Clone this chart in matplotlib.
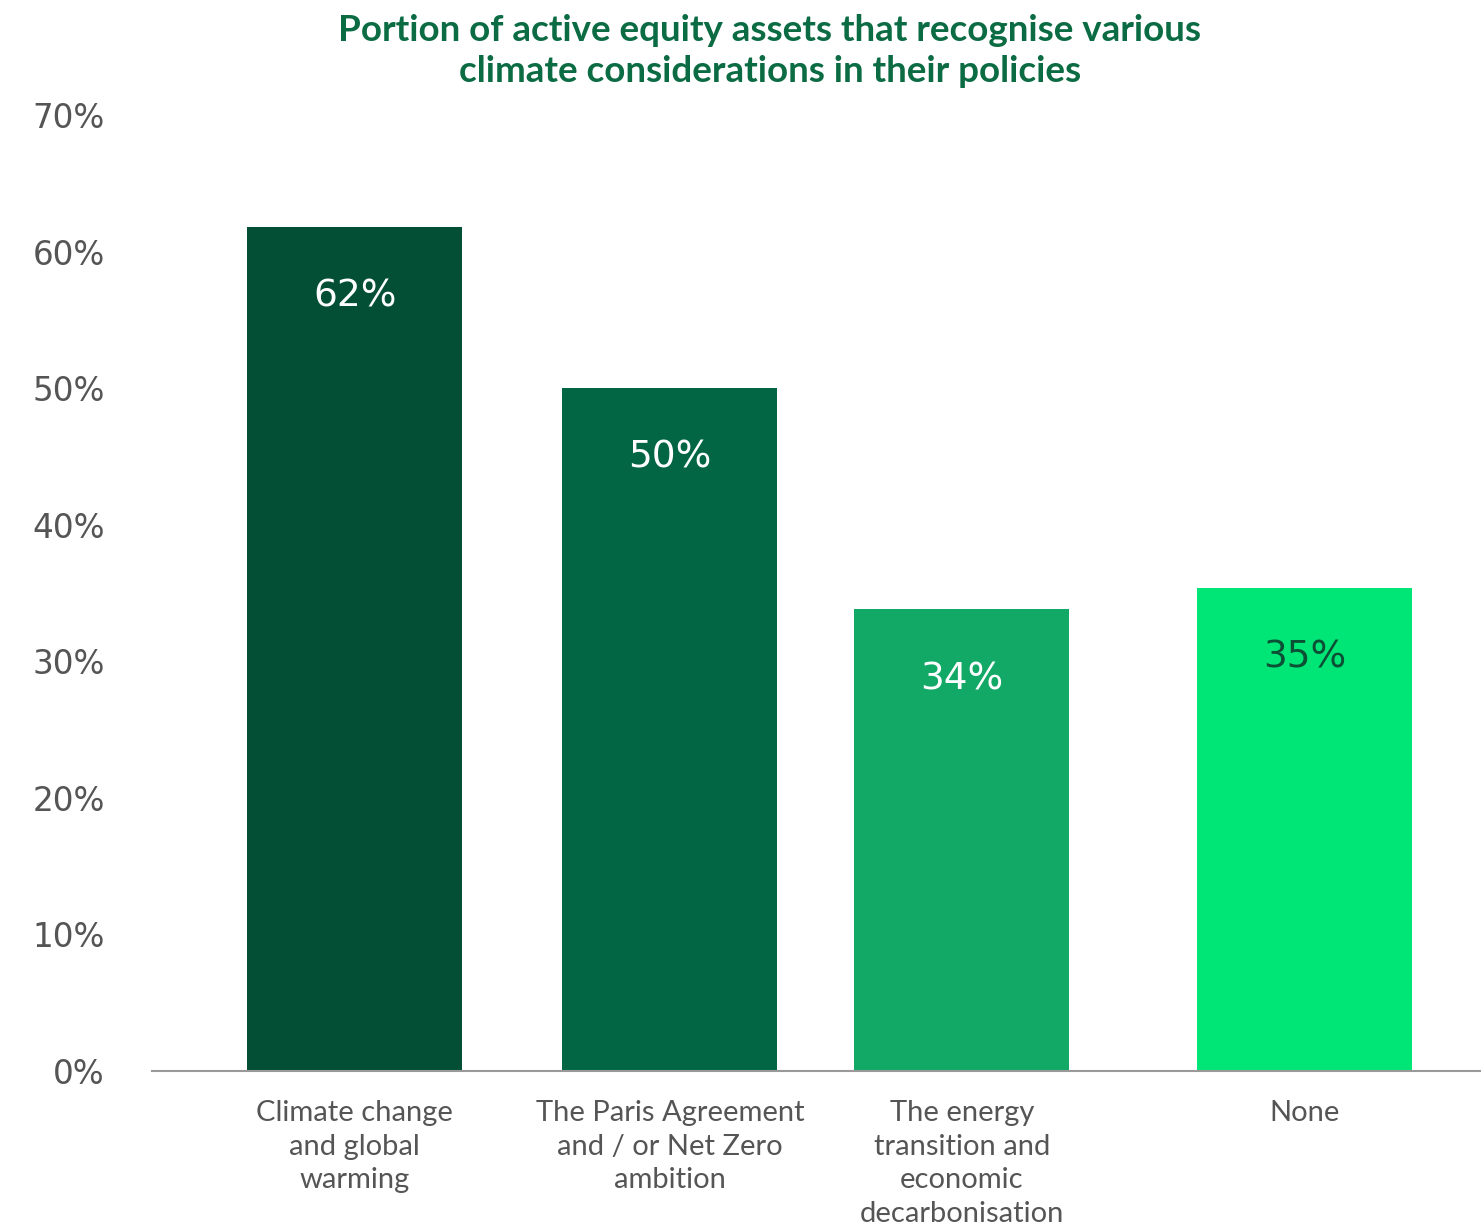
import matplotlib.pyplot as plt

# =====================================
# DATA
# =====================================

categories = [
    "Climate change\nand global\nwarming",
    "The Paris Agreement\nand / or Net Zero\nambition",
    "The energy\ntransition and\neconomic\ndecarbonisation",
    "None",
]
values = [61.8, 50.0, 33.8, 35.4]
value_labels = ["62%", "50%", "34%", "35%"]
yticks = [0, 10, 20, 30, 40, 50, 60, 70]
ytick_labels = ["0%", "10%", "20%", "30%", "40%", "50%", "60%", "70%"]

# layout (bar centres are not evenly spaced in the original)
positions = [0, 1.0, 1.927, 3.016]
bar_colors = ["#024f35", "#026645", "#12a866", "#00e676"]
label_colors = ["white", "white", "white", "#0b4f35"]

# =====================================
# PLOT
# =====================================

fig = plt.figure(figsize=(14.81, 12.27), dpi=100)
ax = fig.add_axes([152 / 1481, 156 / 1227, 1 - 152 / 1481, (1071 - 115) / 1227])

ax.bar(positions, values, width=0.683, color=bar_colors)

for x, v, lab, c in zip(positions, values, value_labels, label_colors):
    ax.text(x, v - 5.1, lab, ha="center", va="center", color=c,
            fontsize=27, family="DejaVu Sans")

ax.set_xlim(-0.644, 3.575)
ax.set_ylim(0, 70)

ax.set_yticks(yticks)
ax.set_yticklabels(ytick_labels, family="DejaVu Sans", fontsize=23.5, color="#555555")
ax.tick_params(axis="y", length=0, pad=34)

ax.set_xticks(positions)
ax.set_xticklabels(categories, family="Lato", fontsize=21, color="#555555",
                   linespacing=1.36, va="top")
ax.tick_params(axis="x", length=0, pad=21)

for s in ["top", "right", "left"]:
    ax.spines[s].set_visible(False)
ax.spines["bottom"].set_color("#999999")
ax.spines["bottom"].set_linewidth(1.5)

fig.text(770 / 1481, 1 - 51 / 1227,
         "Portion of active equity assets that recognise various\nclimate considerations in their policies",
         ha="center", va="center", family="Lato", fontweight="bold",
         fontsize=26.5, color="#0b6b43", linespacing=1.3)

plt.savefig("out.png", dpi=100)
